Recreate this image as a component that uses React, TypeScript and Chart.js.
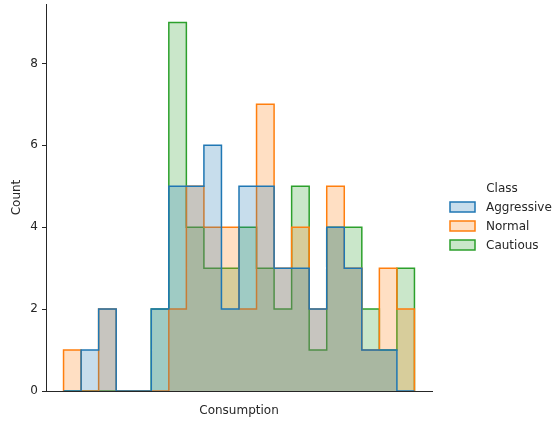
import React, { useEffect, useRef } from "react";
import { Chart, registerables } from "chart.js";

Chart.register(...registerables);

// Histogram bin edges (bin index units) and per-class counts per bin
const binEdges = [0, 1, 2, 3, 4, 5, 6, 7, 8, 9, 10, 11, 12, 13, 14, 15, 16, 17, 18, 19, 20];
const aggressive = [0, 1, 2, 0, 0, 2, 5, 5, 6, 2, 5, 5, 3, 3, 2, 4, 3, 1, 1, 0];
const normal = [1, 0, 2, 0, 0, 0, 2, 5, 4, 4, 2, 7, 3, 4, 2, 5, 3, 1, 3, 2];
const cautious = [0, 0, 0, 0, 0, 2, 9, 4, 3, 3, 4, 3, 2, 5, 1, 4, 4, 2, 1, 3];
const classNames = ["Aggressive", "Normal", "Cautious"];
const classColors = ["#1f77b4", "#ff7f0e", "#2ca02c"];
const yTicks = [0, 2, 4, 6, 8];

const FONT = "'DejaVu Sans', sans-serif";
const TEXT = "#262626";

function hexToRgba(hex: string, a: number) {
  const n = parseInt(hex.slice(1), 16);
  return `rgba(${(n >> 16) & 255}, ${(n >> 8) & 255}, ${n & 255}, ${a})`;
}

// Outline of a step histogram: rises from zero at the first edge, steps
// across each bin, and drops back to zero at the last edge.
function stepPoints(counts: number[]) {
  const pts: { x: number; y: number }[] = [{ x: binEdges[0], y: 0 }];
  counts.forEach((c, i) => pts.push({ x: binEdges[i], y: c }));
  const last = binEdges[binEdges.length - 1];
  pts.push({ x: last, y: counts[counts.length - 1] });
  pts.push({ x: last, y: 0 });
  return pts;
}

const legendPlugin = {
  id: "classLegend",
  afterDraw(chart: Chart) {
    const ctx = chart.ctx;
    ctx.save();
    ctx.font = `12px ${FONT}`;
    ctx.fillStyle = TEXT;
    ctx.textBaseline = "middle";
    ctx.textAlign = "center";
    ctx.fillText("Class", 502, 189);
    ctx.textAlign = "left";
    classNames.forEach((name, i) => {
      const cy = 207 + i * 19;
      ctx.fillStyle = hexToRgba(classColors[i], 0.25);
      ctx.fillRect(450, cy - 5, 25, 10);
      ctx.strokeStyle = classColors[i];
      ctx.lineWidth = 1.5;
      ctx.strokeRect(450, cy - 5, 25, 10);
      ctx.fillStyle = TEXT;
      ctx.fillText(name, 486, cy + 1);
    });
    ctx.restore();
  },
};

function noPadding(scale: any) {
  scale.paddingTop = 0;
  scale.paddingBottom = 0;
  scale.paddingLeft = 0;
  scale.paddingRight = 0;
}

export default function App() {
  const canvasRef = useRef<HTMLCanvasElement | null>(null);

  useEffect(() => {
    if (!canvasRef.current) return;
    const series = [aggressive, normal, cautious];
    const chart = new Chart(canvasRef.current, {
      type: "line",
      data: {
        datasets: series.map((counts, i) => ({
          label: classNames[i],
          data: stepPoints(counts),
          stepped: true,
          fill: "origin",
          borderColor: classColors[i],
          backgroundColor: hexToRgba(classColors[i], 0.25),
          borderWidth: 1.5,
          pointRadius: 0,
          tension: 0,
        })),
      },
      options: {
        responsive: false,
        animation: false,
        devicePixelRatio: 1,
        layout: { padding: { top: 4, right: 121, left: 0, bottom: 0 } },
        plugins: {
          legend: { display: false },
          tooltip: { enabled: false },
        },
        scales: {
          x: {
            type: "linear",
            min: -1,
            max: 21,
            ticks: { display: false },
            grid: { display: false, drawTicks: false },
            border: { display: true, color: TEXT, width: 1, z: 1 },
            title: {
              display: true,
              text: "Consumption",
              color: TEXT,
              font: { family: FONT, size: 12 },
              padding: { top: 0, bottom: 3 },
            },
            afterFit(scale: any) {
              scale.height = 30;
              noPadding(scale);
            },
          },
          y: {
            type: "linear",
            min: 0,
            max: 9.45,
            afterBuildTicks(scale: any) {
              scale.ticks = yTicks.map((v) => ({ value: v }));
            },
            ticks: {
              color: TEXT,
              font: { family: FONT, size: 12 },
              padding: 4,
            },
            grid: {
              display: true,
              drawOnChartArea: false,
              drawTicks: true,
              tickLength: 4,
              color: TEXT,
            },
            border: { display: true, color: TEXT, width: 1, z: 1 },
            title: {
              display: true,
              text: "Count",
              color: TEXT,
              font: { family: FONT, size: 12 },
              padding: { top: 10, bottom: 0 },
            },
            afterFit(scale: any) {
              scale.width = 46;
              noPadding(scale);
            },
          },
        },
      },
      plugins: [legendPlugin],
    });
    return () => chart.destroy();
  }, []);

  return (
    <div style={{ position: "absolute", left: 0, top: 0, width: 553, height: 421 }}>
      <canvas ref={canvasRef} width={553} height={421} />
    </div>
  );
}
